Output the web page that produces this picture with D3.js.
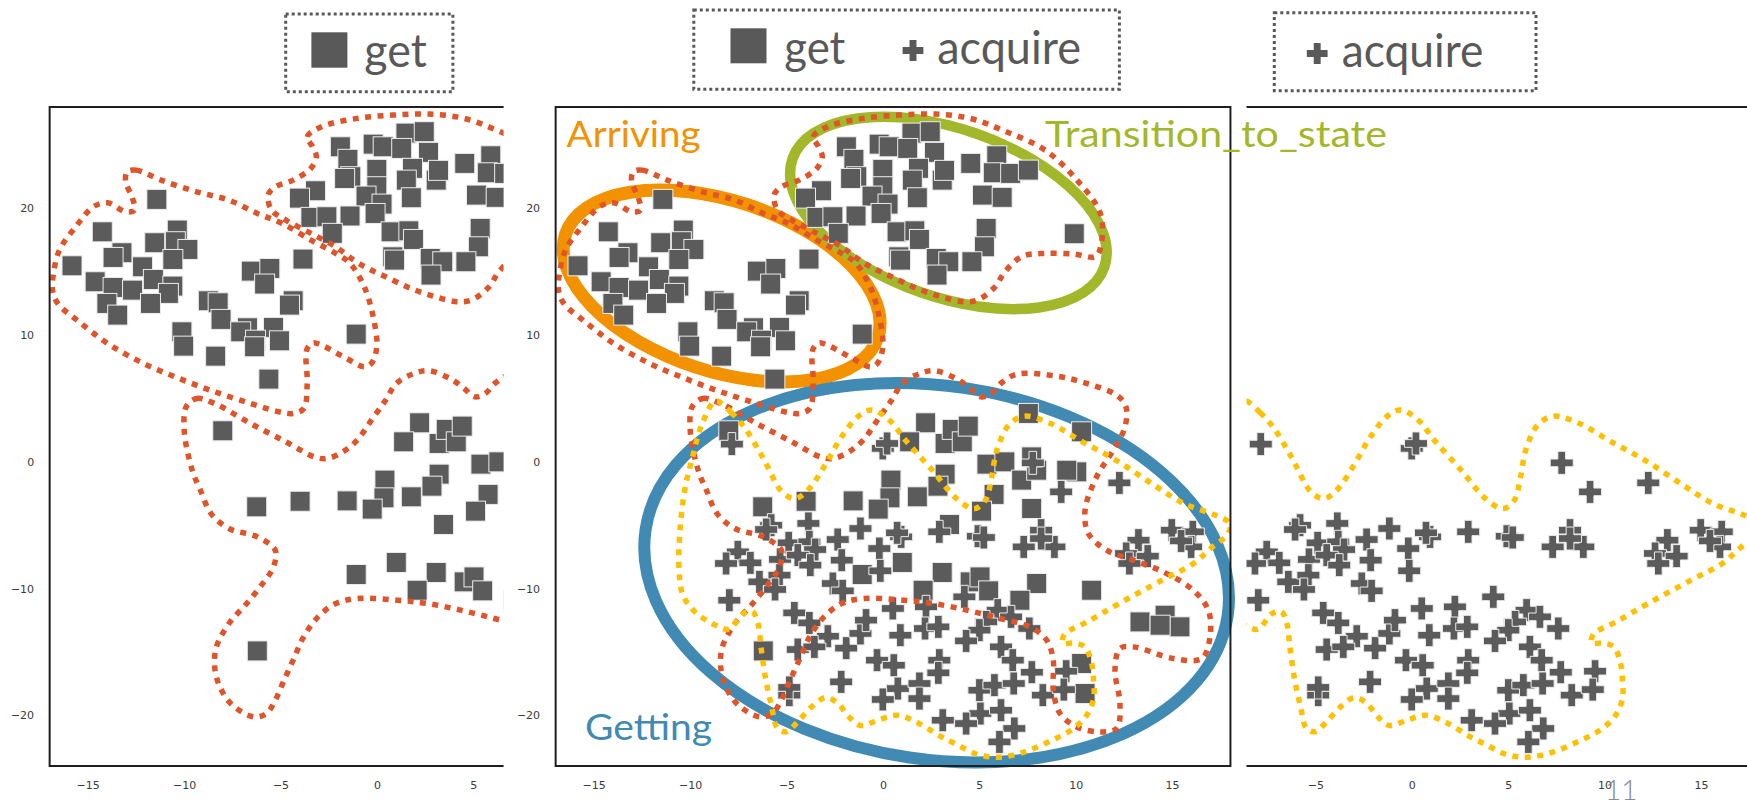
<!DOCTYPE html>
<html>
<head>
<meta charset="utf-8">
<script src="https://cdn.jsdelivr.net/npm/d3@7"></script>
<style>
  html, body { margin: 0; padding: 0; background: #fff; }
  svg { display: block; }
</style>
</head>
<body>
<svg id="chart" width="1747" height="800"></svg>
<script>
// ---------------- data (t-SNE embedding coordinates) ----------------
const xTicks = [-15, -10, -5, 0, 5, 10, 15];
const yTicks = [-20, -10, 0, 10, 20];
const xDomain = [-17, 18];
const yDomain = [-24, 28];

// "get" samples (square markers)
const getPoints = [
  [1.48,25.94],[2.43,26.05],[-1.92,24.86],[-0.22,25.07],[0.30,24.86],[1.26,24.73],[2.65,24.42],
  [-1.53,23.87],[-0.03,23.08],[1.82,23.16],[1.50,22.23],[3.05,22.23],[3.17,23.0],[-1.38,22.5],
  [-1.70,22.36],[4.53,23.55],[5.88,24.15],[5.70,22.81],[6.6,22.76],[5.14,21.05],[6.16,20.87],
  [1.76,20.84],[-0.03,21.71],[-0.59,20.97],[0.24,20.34],[-0.12,19.6],[-3.21,21.39],[-4.04,20.81],
  [-3.45,19.29],[-2.62,19.34],[-1.42,19.4],[-2.34,18.03],[0.71,18.15],[1.63,18.23],[1.87,17.55],
  [5.33,18.42],[5.24,16.97],[0.80,16.18],[0.89,15.92],[2.74,16.05],[3.39,15.79],[4.59,15.79],
  [2.78,14.74],[7.52,23.02],[9.9,18.0],
  [-11.44,20.71],[-14.27,18.15],[-10.38,18.29],[-11.55,17.29],[-10.48,17.37],[-9.83,16.76],
  [-13.25,16.5],[-13.71,16.13],[-15.84,15.47],[-12.18,15.39],[-10.61,15.97],[-11.62,14.39],
  [-14.64,14.21],[-13.71,13.76],[-12.70,13.55],[-10.61,13.87],[-10.84,13.29],[-14.03,12.5],
  [-11.77,12.5],[-13.47,11.58],[-6.54,15.05],[-5.58,15.26],[-5.85,14.03],[-3.86,16.0],
  [-8.77,12.71],[-8.26,12.55],[-4.37,12.71],[-4.56,12.37],[-8.11,11.24],[-6.74,10.58],
  [-10.14,10.26],[-10.05,9.13],[-7.09,10.26],[-5.39,10.61],[-6.32,9.6],[-5.08,9.55],
  [-6.37,9.08],[-8.39,8.34],[-1.10,10.08],[-5.63,6.53],
  [-8.02,2.45],[2.19,3.08],[1.36,1.58],[3.20,1.45],[3.57,2.56],[4.09,1.58],[4.40,2.82],
  [5.37,-0.18],[6.3,0.0],[3.20,-0.97],[2.83,-1.92],[0.39,-1.44],[0.34,-2.84],[1.76,-2.76],
  [-0.27,-3.73],[-1.57,-3.08],[-4.01,-3.11],[-6.26,-3.55],[5.74,-2.57],[5.09,-3.89],
  [3.43,-4.94],[0.98,-7.94],[-1.10,-8.89],[3.05,-8.73],[4.50,-9.47],[5.01,-9.08],
  [5.46,-10.18],[2.06,-10.13],[-6.23,-14.92],
  [7.52,3.82],[10.28,2.37],[7.17,-1.44],[7.95,-0.66],[7.69,0.39],[10.03,-0.79],[9.51,-0.66],
  [7.69,-3.68],[7.95,-9.6],[7.08,-10.92],[10.8,-10.13],[13.31,-12.63],[14.61,-12.1],
  [15.38,-13.02],[14.35,-12.89],[10.28,-15.91],[10.46,-18.28]
];

// "acquire" samples (plus markers)
const acquirePoints = [
  [-7.86,1.40],[-0.03,1.06],[0.19,1.45],[7.75,-0.08],[9.22,-2.37],[12.24,-1.66],
  [-5.82,-5.0],[-6.08,-5.34],[-3.89,-4.86],[-1.19,-5.26],[-4.91,-6.39],[-3.84,-6.31],
  [-3.54,-6.92],[-2.37,-6.13],[0.92,-5.92],[0.71,-5.6],[2.90,-5.52],[4.90,-5.87],[5.21,-5.97],
  [8.18,-5.39],[7.28,-6.71],[8.87,-6.71],[8.18,-6.05],[14.96,-5.39],[16.05,-5.52],
  [15.96,-6.71],[15.44,-6.24],[13.23,-6.18],[12.59,-7.23],[13.71,-7.44],[12.76,-8.02],
  [-7.55,-7.1],[-6.9,-7.97],[-8.16,-8.02],[-5.36,-7.7],[-4.44,-7.36],[-3.79,-8.15],
  [-2.16,-7.76],[-0.21,-6.84],[-0.16,-8.6],[-6.43,-9.47],[-5.39,-8.94],[-5.62,-10.07],
  [-2.62,-9.6],[-2.11,-10.18],[-7.99,-10.92],[-4.62,-11.92],[-3.84,-12.71],[-2.88,-13.76],
  [-4.44,-14.81],[-3.58,-14.6],[-1.93,-14.7],[-1.19,-13.54],[-0.90,-12.49],[0.49,-11.57],
  [2.21,-11.44],[4.20,-10.65],[0.88,-13.68],[2.16,-13.15],[2.85,-13.02],[5.93,-11.7],
  [6.62,-12.23],[5.33,-12.63],[4.98,-13.28],[7.57,-13.15],[4.29,-14.13],[6.10,-14.6],
  [6.71,-15.65],[-0.33,-15.65],[0.54,-16.05],[2.90,-15.65],[2.85,-16.65],[7.70,-16.6],
  [9.48,-16.52],[-2.19,-17.36],[-4.88,-18.41],[-4.88,-17.8],[0.75,-17.89],[1.87,-17.49],
  [-0.03,-18.75],[1.87,-18.68],[4.98,-18.02],[5.76,-17.62],[6.76,-17.49],[8.27,-18.41],
  [9.36,-17.97],[5.03,-19.86],[6.10,-19.6],[3.08,-20.39],[4.29,-20.65],[6.79,-21.04],
  [6.02,-22.1]
];

// density outlines of the "get" samples
const getContourLeft = [
  [-12.97,22.89],[-12.51,23.02],[-11.22,22.23],[-9.37,21.31],[-7.7,20.65],[-6.23,19.6],
  [-4.93,18.81],[-3.45,17.5],[-2.16,16.45],[-1.42,15.66],[-0.68,13.81],[-0.22,11.44],
  [-0.03,9.08],[-0.31,7.77],[-0.68,7.5],[-1.6,8.16],[-2.9,9.21],[-3.36,9.39],[-3.67,8.81],
  [-3.64,6.19],[-3.82,4.21],[-4.37,3.82],[-5.11,3.95],[-6.59,4.61],[-8.44,5.53],
  [-10.29,6.58],[-12.14,7.77],[-13.99,9.34],[-15.47,11.05],[-16.58,12.5],[-16.85,13.55],
  [-16.8,14.87],[-16.49,16.71],[-15.65,18.55],[-14.73,20.13],[-13.99,20.44],[-13.06,19.73],
  [-12.6,19.87],[-12.73,20.92],[-13.06,22.1]
];
const getContourUpper = [
  [-3.36,24.86],[-3.64,25.65],[-2.9,26.44],[-1.05,27.1],[0.8,27.36],[2.65,27.44],[4.5,27.1],
  [6.3,26.1],[8.38,24.6],[10.0,22.3],[11.25,19.6],[11.3,17.2],[11.0,16.2],[9.9,16.4],
  [8.38,16.45],[7.19,16.2],[6.3,15.0],[5.79,13.81],[4.87,12.76],[4.13,12.64],[3.02,13.02],
  [1.72,13.69],[0.43,14.6],[-0.49,15.26],[-1.23,15.92],[-2.16,16.97],[-3.45,18.03],
  [-4.75,19.08],[-5.49,19.87],[-5.67,21.05],[-5.3,21.7],[-4.37,22.23],[-3.45,23.16],
  [-3.17,24.07]
];
const getContourLower = [
  [-9.92,4.34],[-9.37,5.0],[-8.44,4.6],[-6.59,3.03],[-4.75,1.58],[-3.27,0.39],[-2.62,0.26],
  [-1.79,0.79],[-1.05,1.71],[-0.31,3.29],[0.43,4.87],[0.98,6.19],[1.91,6.98],[2.65,7.19],
  [3.76,6.58],[4.5,5.79],[5.05,5.13],[5.6,5.4],[6.1,6.2],[6.91,6.92],[8.99,6.76],
  [10.54,6.19],[12.1,5.26],[12.58,4.34],[12.53,2.76],[11.92,0.92],[11.06,-1.18],
  [10.46,-3.81],[10.63,-5.65],[11.58,-6.97],[12.96,-7.76],[14.52,-8.68],[16.07,-10.13],
  [16.85,-11.7],[16.94,-13.81],[16.51,-15.52],[15.04,-15.52],[12.96,-14.6],[12.27,-14.73],
  [12.01,-16.44],[12.27,-19.07],[12.1,-21.04],[11.23,-21.31],[10.03,-20.92],[9.16,-19.86],
  [8.81,-18.02],[8.81,-15.65],[8.47,-14.07],[7.6,-13.02],[6.05,-12.36],[4.32,-11.7],
  [2.59,-11.18],[1.03,-10.92],[-1.05,-10.78],[-2.16,-11.18],[-3.08,-12.23],[-3.82,-13.8],
  [-4.37,-15.65],[-4.84,-17.23],[-5.3,-18.81],[-5.76,-19.86],[-6.41,-20.12],[-7.52,-19.2],
  [-8.17,-17.76],[-8.44,-16.18],[-8.35,-14.6],[-7.7,-12.76],[-6.78,-11.18],[-5.95,-9.6],
  [-5.39,-8.29],[-5.3,-6.97],[-6.23,-5.92],[-7.7,-5.26],[-8.63,-4.08],[-9.18,-2.23],
  [-9.55,-0.92],[-9.83,0.66],[-10.02,2.5]
];

// density outline of the "acquire" samples
const acquireContour = [
  [-8.7,4.8],[-7.9,3.9],[-7.2,2.7],[-6.5,1.0],[-6.0,-0.4],[-5.3,-2.3],[-4.6,-2.9],
  [-3.9,-2.2],[-3.0,-0.2],[-2.2,1.9],[-1.3,3.6],[-0.6,4.1],[0.3,3.3],[1.2,1.6],[2.5,-0.6],
  [3.8,-2.9],[4.7,-3.7],[5.3,-3.0],[5.6,-1.3],[5.9,1.0],[6.5,2.9],[7.3,3.6],[8.7,3.0],
  [10.3,1.6],[12.1,0.1],[14.0,-1.8],[15.6,-3.3],[17.2,-4.2],[18.0,-4.9],[17.8,-5.8],
  [17.0,-6.8],[16.1,-8.0],[14.5,-9.3],[12.2,-11.2],[10.6,-12.6],[9.4,-13.6],[9.3,-14.3],
  [9.9,-14.3],[10.45,-14.6],[10.8,-15.9],[10.9,-17.2],[10.9,-18.7],[10.5,-20.1],[9.8,-21.1],
  [8.7,-22.0],[7.3,-22.9],[6.0,-23.3],[4.9,-23.1],[3.8,-22.3],[2.9,-21.6],[1.8,-20.6],
  [0.7,-20.0],[-0.3,-20.4],[-1.2,-20.8],[-1.8,-20.1],[-2.4,-19.0],[-3.0,-18.6],[-3.7,-19.3],
  [-4.5,-20.6],[-5.05,-21.3],[-5.5,-21.0],[-5.8,-19.3],[-6.1,-17.2],[-6.35,-14.6],
  [-6.5,-12.8],[-6.8,-11.8],[-7.3,-12.0],[-8.0,-13.2],[-8.7,-12.9],[-9.8,-11.8],
  [-10.4,-10.5],[-10.6,-8.5],[-10.55,-5.4],[-10.3,-2.2],[-9.9,0.4],[-9.4,3.0]
];

// behaviour clusters (names and centres in embedding coordinates)
const clusterNames = ["Arriving", "Transition_to_state", "Getting"];
const clusterCentres = [[-8.39, 13.88], [3.37, 19.64], [2.76, -8.75]];
const clusterLabelAnchors = [[-16.43, 24.86], [8.38, 24.86], [-15.48, -21.97]];

const legendLabels = ["get", "acquire"];
const pageNumber = "11";

// ---------------- layout ----------------
const W = 1747, H = 800;
const unit = 19.28;                 // px per embedding unit (x)
const plotTop = 107, plotBottom = 766;

const C = {
  marker: "#5b5b5b", markerEdge: "#ececec",
  getLine: "#e0542a", acqLine: "#ffc000",
  frame: "#1f1f1f", tick: "#3a3a3a", legend: "#595959",
  arriving: "#f39200", transition: "#a2b82a", getting: "#418ab3"
};

const svg = d3.select("#chart");
svg.append("rect").attr("width", W).attr("height", H).attr("fill", "#fff");
const defs = svg.append("defs");

const y = d3.scaleLinear().domain(yDomain).range([plotBottom, plotTop]);

function fmt(v) { return v < 0 ? "\u2212" + Math.abs(v) : String(v); }

const crossSym = d3.symbol().type(d3.symbolCross).size(294);

const panels = [
  { id: "p1", zero: 377.4, clip: [0, 503.6], get: true, acq: false },
  { id: "p2", zero: 883.4, clip: [505, 1240], get: true, acq: true },
  { id: "p3", zero: 1412.3, clip: [1246.5, 1747], get: false, acq: true }
];

panels.forEach(p => {
  const x = d3.scaleLinear().domain(xDomain)
    .range([p.zero + xDomain[0] * unit, p.zero + xDomain[1] * unit]);
  p.x = x;
  const [fx0, fx1] = x.range();

  defs.append("clipPath").attr("id", p.id + "-panel")
    .append("rect").attr("x", p.clip[0]).attr("y", 0)
    .attr("width", p.clip[1] - p.clip[0]).attr("height", H);
  defs.append("clipPath").attr("id", p.id + "-frame")
    .append("rect").attr("x", fx0).attr("y", plotTop)
    .attr("width", fx1 - fx0).attr("height", plotBottom - plotTop);

  const g = svg.append("g").attr("clip-path", `url(#${p.id}-panel)`);
  p.group = g;

  // tick labels
  g.selectAll(".yt").data(yTicks).join("text")
    .attr("x", fx0 - 15.5).attr("y", d => y(d) + 4)
    .attr("text-anchor", "end")
    .attr("font-family", "DejaVu Sans").attr("font-size", 11)
    .attr("fill", C.tick).text(fmt);
  g.selectAll(".xt").data(xTicks).join("text")
    .attr("x", d => x(d)).attr("y", 789)
    .attr("text-anchor", "middle")
    .attr("font-family", "DejaVu Sans").attr("font-size", 11)
    .attr("fill", C.tick).text(fmt);

  const inner = g.append("g").attr("clip-path", `url(#${p.id}-frame)`);

  if (p.get) {
    inner.append("g").selectAll("rect").data(getPoints).join("rect")
      .attr("x", d => x(d[0]) - 10).attr("y", d => y(d[1]) - 10)
      .attr("width", 20).attr("height", 20)
      .attr("fill", C.marker).attr("stroke", C.markerEdge).attr("stroke-width", 1);
  }
  if (p.acq) {
    inner.append("g").selectAll("path").data(acquirePoints).join("path")
      .attr("d", crossSym)
      .attr("transform", d => `translate(${x(d[0])},${y(d[1])})`)
      .attr("fill", C.marker).attr("stroke", C.markerEdge).attr("stroke-width", 1);
  }

  const line = d3.line().x(d => x(d[0])).y(d => y(d[1]))
    .curve(d3.curveCatmullRomClosed.alpha(0.5));
  const dotted = (sel, col) => sel.attr("fill", "none").attr("stroke", col)
    .attr("stroke-width", 5.5).attr("stroke-dasharray", "6 6.5");

  const contours = inner.append("g");
  if (p.get) {
    [getContourLeft, getContourUpper, getContourLower].forEach(c =>
      contours.append("path").attr("d", line(c)).call(dotted, C.getLine));
  }
  if (p.acq) {
    contours.append("path").attr("d", line(acquireContour)).call(dotted, C.acqLine);
  }

  // axes frame
  g.append("rect").attr("x", fx0).attr("y", plotTop)
    .attr("width", fx1 - fx0).attr("height", plotBottom - plotTop)
    .attr("fill", "none").attr("stroke", C.frame).attr("stroke-width", 2);
});

// ---------------- cluster ellipses (middle panel) ----------------
const px2 = panels[1].x;
const ellipseShape = [
  { a: 8.53, b: 4.42, rot: 18.3, col: C.arriving, w: 13 },
  { a: 8.56, b: 4.36, rot: 19.2, col: C.transition, w: 10.5 },
  { a: 15.26, b: 9.69, rot: 8.4, col: C.getting, w: 12 }
];
const ellG = svg.insert("g", () => panels[1].group.node());
clusterCentres.forEach((c, i) => {
  const s = ellipseShape[i];
  const cx = px2(c[0]), cy = y(c[1]);
  ellG.append("ellipse").attr("cx", cx).attr("cy", cy)
    .attr("rx", s.a * unit).attr("ry", s.b * unit)
    .attr("transform", `rotate(${s.rot},${cx},${cy})`)
    .attr("fill", "none").attr("stroke", s.col).attr("stroke-width", s.w);
});
// middle panel (markers + dotted outlines) is raised above the ellipses,
// markers are then re-covered by the ellipse bands only where the bands pass
svg.node().appendChild(panels[1].group.node());

// cluster names
const labelCols = [C.arriving, C.transition, C.getting];
const labelWidths = [134, 342, 127];
clusterNames.forEach((n, i) => {
  const a = clusterLabelAnchors[i];
  svg.append("text").attr("x", px2(a[0])).attr("y", y(a[1]))
    .attr("font-family", "Lato, 'Open Sans', sans-serif").attr("font-size", 36)
    .attr("textLength", labelWidths[i]).attr("lengthAdjust", "spacingAndGlyphs")
    .attr("fill", labelCols[i]).text(n);
});

// ---------------- legends ----------------
function legendBox(x0, y0, x1, y1) {
  svg.append("rect").attr("x", x0).attr("y", y0).attr("width", x1 - x0).attr("height", y1 - y0)
    .attr("fill", "none").attr("stroke", C.legend).attr("stroke-width", 3)
    .attr("stroke-dasharray", "3 3");
}
function legendText(x0, base, len, t) {
  svg.append("text").attr("x", x0).attr("y", base)
    .attr("font-family", "Lato, 'Open Sans', sans-serif").attr("font-size", 46)
    .attr("textLength", len).attr("lengthAdjust", "spacingAndGlyphs")
    .attr("fill", C.legend).text(t);
}
const legendCross = d3.symbol().type(d3.symbolCross).size(240);

legendBox(285.7, 14, 452.9, 91.7);
svg.append("rect").attr("x", 311.4).attr("y", 32.3).attr("width", 36).attr("height", 35.4).attr("fill", C.legend);
legendText(364.3, 66.7, 62.5, legendLabels[0]);

legendBox(693.8, 10, 1119.4, 89.3);
svg.append("rect").attr("x", 730.5).attr("y", 28.3).attr("width", 36).attr("height", 35).attr("fill", C.legend);
legendText(784.3, 63.5, 61, legendLabels[0]);
svg.append("path").attr("d", legendCross).attr("transform", "translate(913,50.5)").attr("fill", C.legend);
legendText(937.2, 64, 143.7, legendLabels[1]);

legendBox(1274.3, 12.7, 1536, 90.7);
svg.append("path").attr("d", legendCross).attr("transform", "translate(1317.2,53.5)").attr("fill", C.legend);
legendText(1341.7, 66.7, 141.6, legendLabels[1]);

// page number
svg.append("text").attr("x", 1605).attr("y", 800)
  .attr("font-family", "Lato, 'Open Sans', sans-serif").attr("font-size", 28)
  .attr("font-weight", 300)
  .attr("fill", "#8c8c8c").text(pageNumber);
</script>
</body>
</html>
